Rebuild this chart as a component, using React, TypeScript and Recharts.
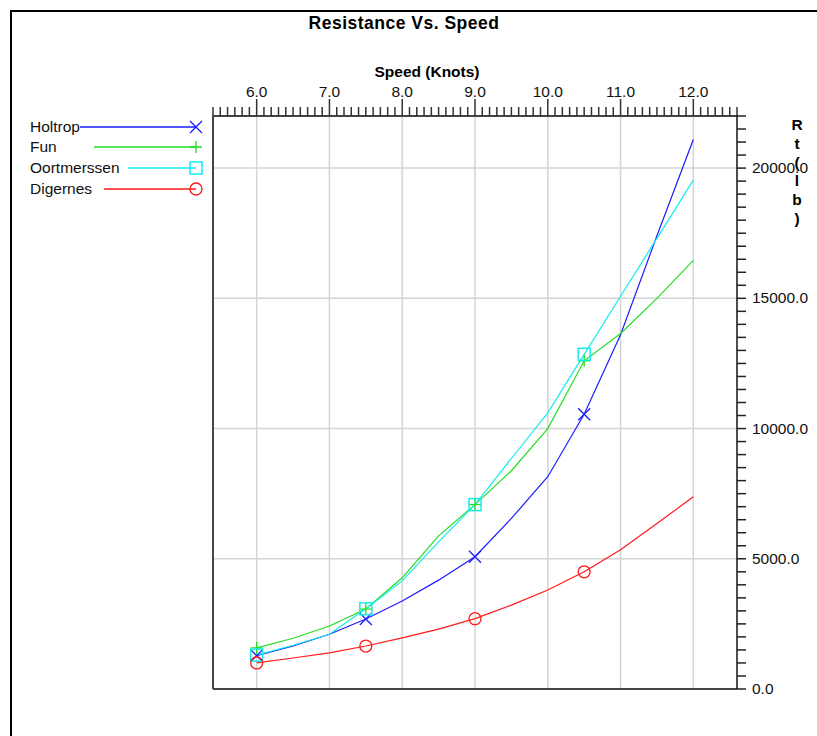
import React from 'react';
import { LineChart, Line, XAxis, YAxis, CartesianGrid } from 'recharts';

// speeds in knots, resistance Rt in lb
const speeds = [6.0, 6.5, 7.0, 7.5, 8.0, 8.5, 9.0, 9.5, 10.0, 10.5, 11.0, 11.5, 12.0];
const holtrop = [1280, 1650, 2100, 2690, 3380, 4180, 5080, 6550, 8150, 10550, 13600, 17400, 21100];
const fun = [1580, 1950, 2420, 3070, 4270, 5880, 7080, 8380, 10000, 12600, 13650, 15000, 16460];
const oortmerssen = [1300, 1680, 2100, 3080, 4150, 5650, 7080, 8850, 10600, 12850, 15080, 17300, 19540];
const digernes = [1000, 1190, 1390, 1650, 1960, 2300, 2700, 3220, 3800, 4500, 5350, 6350, 7380];

const seriesNames = ['Holtrop', 'Fun', 'Oortmerssen', 'Digernes'];
const xGridValues = [6, 7, 8, 9, 10, 11, 12];
const yGridValues = [5000, 10000, 15000, 20000];

// minor ticks every 0.1 kn on top, every 500 lb on the right
const xTicks = Array.from({ length: 73 }, (_, i) => (54 + i) / 10);
const yTicks = Array.from({ length: 45 }, (_, i) => i * 500);

const chartData = speeds.map((s, i) => ({
    speed: s,
    holtrop: holtrop[i],
    fun: fun[i],
    oortmerssen: oortmerssen[i],
    digernes: digernes[i],
}));

const series = [
    { key: 'holtrop', name: seriesNames[0], color: '#1c1cff', shape: 'x', legendStart: 80 },
    { key: 'fun', name: seriesNames[1], color: '#22dd22', shape: 'plus', legendStart: 94 },
    { key: 'oortmerssen', name: seriesNames[2], color: '#14ecec', shape: 'square', legendStart: 128 },
    { key: 'digernes', name: seriesNames[3], color: '#ff1a1a', shape: 'circle', legendStart: 104 },
];

const FONT = '"Liberation Sans", Arial, sans-serif';

const Marker = ({ shape, color, cx, cy }: any) => {
    if (shape === 'x') {
        return <path d={`M${cx - 6},${cy - 6}L${cx + 6},${cy + 6}M${cx - 6},${cy + 6}L${cx + 6},${cy - 6}`} stroke={color} strokeWidth={1.3} fill="none" />;
    }
    if (shape === 'plus') {
        return <path d={`M${cx - 6},${cy}L${cx + 6},${cy}M${cx},${cy - 6}L${cx},${cy + 6}`} stroke={color} strokeWidth={1.3} fill="none" />;
    }
    if (shape === 'square') {
        return <rect x={cx - 6} y={cy - 6} width={12} height={12} stroke={color} strokeWidth={1.5} fill="none" />;
    }
    return <circle cx={cx} cy={cy} r={6} stroke={color} strokeWidth={1.3} fill="none" />;
};

const makeDot = (shape: string, color: string) => (props: any) => {
    const { cx, cy, index } = props;
    if (index % 3 !== 0 || index > 9) return <g key={`e-${shape}-${index}`} />;
    return (
        <g key={`d-${shape}-${index}`}>
            <Marker shape={shape} color={color} cx={cx} cy={cy} />
        </g>
    );
};

const isMajor = (v: number, step: number) => Math.abs(v / step - Math.round(v / step)) < 1e-6;

const TopTick = (props: any) => {
    const { x, y, payload } = props;
    const v = payload.value;
    const major = isMajor(v, 1);
    return (
        <g>
            <line x1={x} x2={x} y1={y} y2={y - (major ? 17 : 9)} stroke="#333" strokeWidth={1.5} />
            {major && (
                <text x={x} y={y - 19} textAnchor="middle" fontSize={15.5} fill="#111">
                    {v.toFixed(1)}
                </text>
            )}
        </g>
    );
};

const RightTick = (props: any) => {
    const { x, y, payload } = props;
    const v = payload.value;
    const major = isMajor(v, 5000);
    return (
        <g>
            <line x1={x} x2={x + 9} y1={y} y2={y} stroke="#222" strokeWidth={1.5} />
            {major && (
                <text x={x + 15} y={y + 5} textAnchor="start" fontSize={15.5} fill="#111">
                    {v.toFixed(1)}
                </text>
            )}
        </g>
    );
};

const Overlay = () => {
    const rtLetters = ['R', 't', '(', 'l', 'b', ')'];
    const rowY = [127, 147, 168, 189];
    return (
        <svg width={817} height={736} style={{ position: 'absolute', left: 0, top: 0, pointerEvents: 'none', fontFamily: FONT }}>
            <path d="M11,736 L11,11 L817,11" stroke="#000" strokeWidth={2} fill="none" />
            <text x={404} y={29} textAnchor="middle" fontSize={17.5} fontWeight="bold" letterSpacing={0.5} fill="#000">
                Resistance Vs. Speed
            </text>
            <text x={427} y={77} textAnchor="middle" fontSize={15.5} fontWeight="bold" fill="#000">
                Speed (Knots)
            </text>
            {rtLetters.map((c, i) => (
                <text key={c + i} x={797} y={130 + i * 18.8} textAnchor="middle" fontSize={15.5} fontWeight="bold" fill="#000">
                    {c}
                </text>
            ))}
            {series.map((s, i) => (
                <g key={s.key}>
                    <text x={30} y={rowY[i] + 5} fontSize={15.5} fill="#111">
                        {s.name}
                    </text>
                    <line x1={s.legendStart} x2={196} y1={rowY[i]} y2={rowY[i]} stroke={s.color} strokeWidth={1.3} />
                    <Marker shape={s.shape} color={s.color} cx={196} cy={rowY[i]} />
                </g>
            ))}
        </svg>
    );
};

export default function App() {
    return (
        <div style={{ position: 'absolute', left: 0, top: 0, width: 817, height: 736, background: '#fff', fontFamily: FONT }}>
            <LineChart width={817} height={736} data={chartData} margin={{ top: 66, right: 10, left: 212, bottom: 46 }}>
                <CartesianGrid
                    stroke="#d4d4d4"
                    strokeWidth={1.5}
                    verticalValues={xGridValues}
                    horizontalValues={yGridValues}
                />
                <XAxis
                    dataKey="speed"
                    type="number"
                    orientation="top"
                    domain={[5.4, 12.6]}
                    ticks={xTicks}
                    interval={0}
                    allowDataOverflow
                    height={50}
                    tickSize={0}
                    tickMargin={0}
                    tickLine={false}
                    tick={<TopTick />}
                    axisLine={{ stroke: '#444', strokeWidth: 2 }}
                />
                <XAxis
                    xAxisId="b"
                    dataKey="speed"
                    type="number"
                    orientation="bottom"
                    domain={[5.4, 12.6]}
                    height={1}
                    ticks={[]}
                    tick={false}
                    tickLine={false}
                    axisLine={{ stroke: '#444', strokeWidth: 2 }}
                />
                <YAxis
                    type="number"
                    orientation="right"
                    domain={[0, 22000]}
                    ticks={yTicks}
                    interval={0}
                    allowDataOverflow
                    width={70}
                    tickSize={0}
                    tickMargin={0}
                    tickLine={false}
                    tick={<RightTick />}
                    axisLine={{ stroke: '#111', strokeWidth: 1.5 }}
                />
                <YAxis
                    yAxisId="l"
                    type="number"
                    orientation="left"
                    domain={[0, 22000]}
                    width={1}
                    ticks={[]}
                    tick={false}
                    tickLine={false}
                    axisLine={{ stroke: '#444', strokeWidth: 2 }}
                />
                {series.map((s) => (
                    <Line
                        key={s.key}
                        type="linear"
                        dataKey={s.key}
                        name={s.name}
                        stroke={s.color}
                        strokeWidth={1.2}
                        dot={makeDot(s.shape, s.color)}
                        activeDot={false}
                        isAnimationActive={false}
                    />
                ))}
            </LineChart>
            <Overlay />
        </div>
    );
}
